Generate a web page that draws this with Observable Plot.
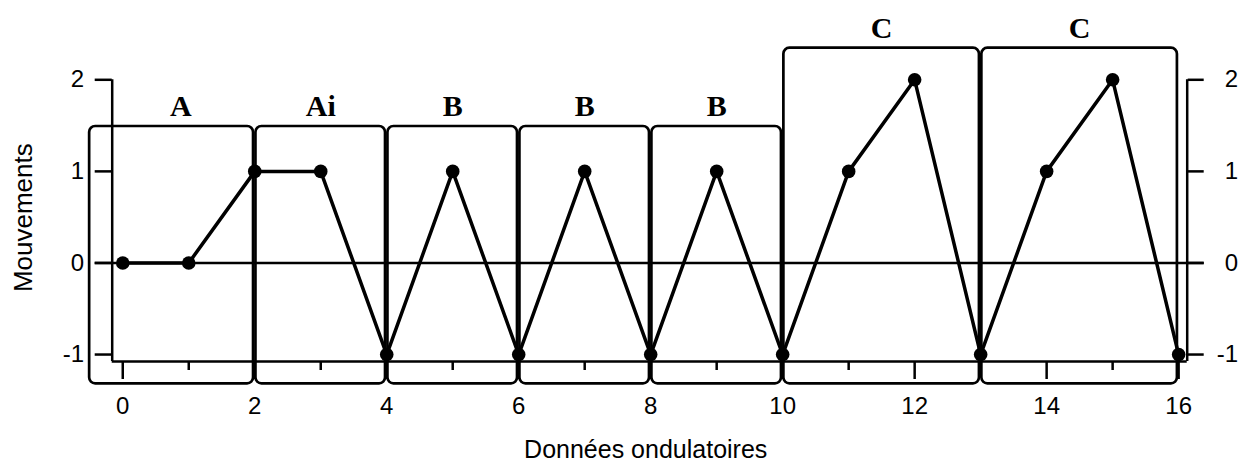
<!DOCTYPE html>
<html>
<head>
<meta charset="utf-8">
<script src="https://cdn.jsdelivr.net/npm/d3@7"></script>
<script src="https://cdn.jsdelivr.net/npm/@observablehq/plot@0.6"></script>
<style>
  html, body { margin: 0; padding: 0; background: #fff; }
</style>
</head>
<body>
<div id="chart"></div>
<script>
// Data points
const xs = [0, 1, 2, 3, 4, 5, 6, 7, 8, 9, 10, 11, 12, 13, 14, 15, 16];
const ys = [0, 0, 1, 1, -1, 1, -1, 1, -1, 1, -1, 1, 2, -1, 1, 2, -1];

// Pattern boxes
const boxLabels = ["A", "Ai", "B", "B", "B", "C", "C"];
const boxStart  = [-0.52, 2, 4, 6, 8, 10, 13];
const boxEnd    = [2, 4, 6, 8, 10, 13, 16];
const boxTop    = [1.49, 1.49, 1.49, 1.49, 1.49, 2.345, 2.345];
const boxBottom = [-1.32, -1.32, -1.32, -1.32, -1.32, -1.32, -1.32];
const labelX    = [0.88, 3, 5, 7, 9, 11.5, 14.5];

// Axes
const yTicks = [-1, 0, 1, 2];
const xMajorTicks = [0, 2, 4, 6, 8, 10, 12, 14, 16];
const xMinorTicks = [1, 3, 5, 7, 9, 11, 13, 15];
const xDomain = [-0.16, 16.13];
const yDomain = [-1.076, 2];
const xTitle = "Données ondulatoires";
const yTitle = "Mouvements";

const points = xs.map((x, i) => ({x, y: ys[i]}));
const boxes = boxLabels.map((label, i) => ({
  label, x1: boxStart[i], x2: boxEnd[i], y1: boxBottom[i], y2: boxTop[i], lx: labelX[i]
}));

const fmt = d => String(d);

const chart = Plot.plot({
  width: 1240,
  height: 463,
  marginLeft: 111.7,
  marginRight: 53.3,
  marginTop: 79.3,
  marginBottom: 102,
  style: {fontFamily: "'Liberation Sans', Arial, sans-serif", fontSize: "24px", color: "black", background: "white"},
  x: {domain: xDomain, label: null},
  y: {domain: yDomain, label: null},
  marks: [
    Plot.rect(boxes, {x1: "x1", x2: "x2", y1: "y1", y2: "y2", rx: 6, fill: "none", stroke: "black", strokeWidth: 2.7, insetLeft: 1.2, insetRight: 1.2}),
    Plot.ruleY([0], {stroke: "black", strokeWidth: 2.5, insetLeft: -17, insetRight: -17}),
    Plot.ruleX([xDomain[0], xDomain[1]], {stroke: "black", strokeWidth: 2.5}),
    Plot.ruleY([yDomain[0]], {stroke: "black", strokeWidth: 2.5}),
    Plot.axisY({anchor: "left", ticks: yTicks, tickSize: 17, tickPadding: 11, tickFormat: fmt, fontSize: 24, strokeWidth: 2.5, label: null}),
    Plot.axisY({anchor: "right", ticks: yTicks, tickSize: 16, tickPadding: 35, tickFormat: fmt, fontSize: 24, textAnchor: "end", strokeWidth: 2.5, label: null}),
    Plot.axisX({anchor: "bottom", ticks: xMajorTicks, tickSize: 18, tickPadding: 17, tickFormat: fmt, fontSize: 24, strokeWidth: 2.5, label: null}),
    Plot.axisX({anchor: "bottom", ticks: xMinorTicks, tickSize: 9, tickFormat: () => "", strokeWidth: 2.5, label: null}),
    Plot.line(points, {x: "x", y: "y", stroke: "black", strokeWidth: 3.5}),
    Plot.dot(points, {x: "x", y: "y", r: 6.8, fill: "black"}),
    Plot.text(boxes, {x: "lx", y: "y2", text: "label", dy: -20, fontFamily: "'Liberation Serif', 'Times New Roman', serif", fontWeight: "bold", fontSize: 30, fill: "black"}),
    Plot.text([yTitle], {frameAnchor: "left", rotate: -90, textAnchor: "middle", lineAnchor: "middle", dx: -89, dy: -3, fontSize: 26, fill: "black"}),
    Plot.text([xTitle], {frameAnchor: "bottom", textAnchor: "middle", lineAnchor: "middle", dy: 88, dx: -4, fontSize: 25, fill: "black"})
  ]
});
document.getElementById("chart").appendChild(chart);
</script>
</body>
</html>
